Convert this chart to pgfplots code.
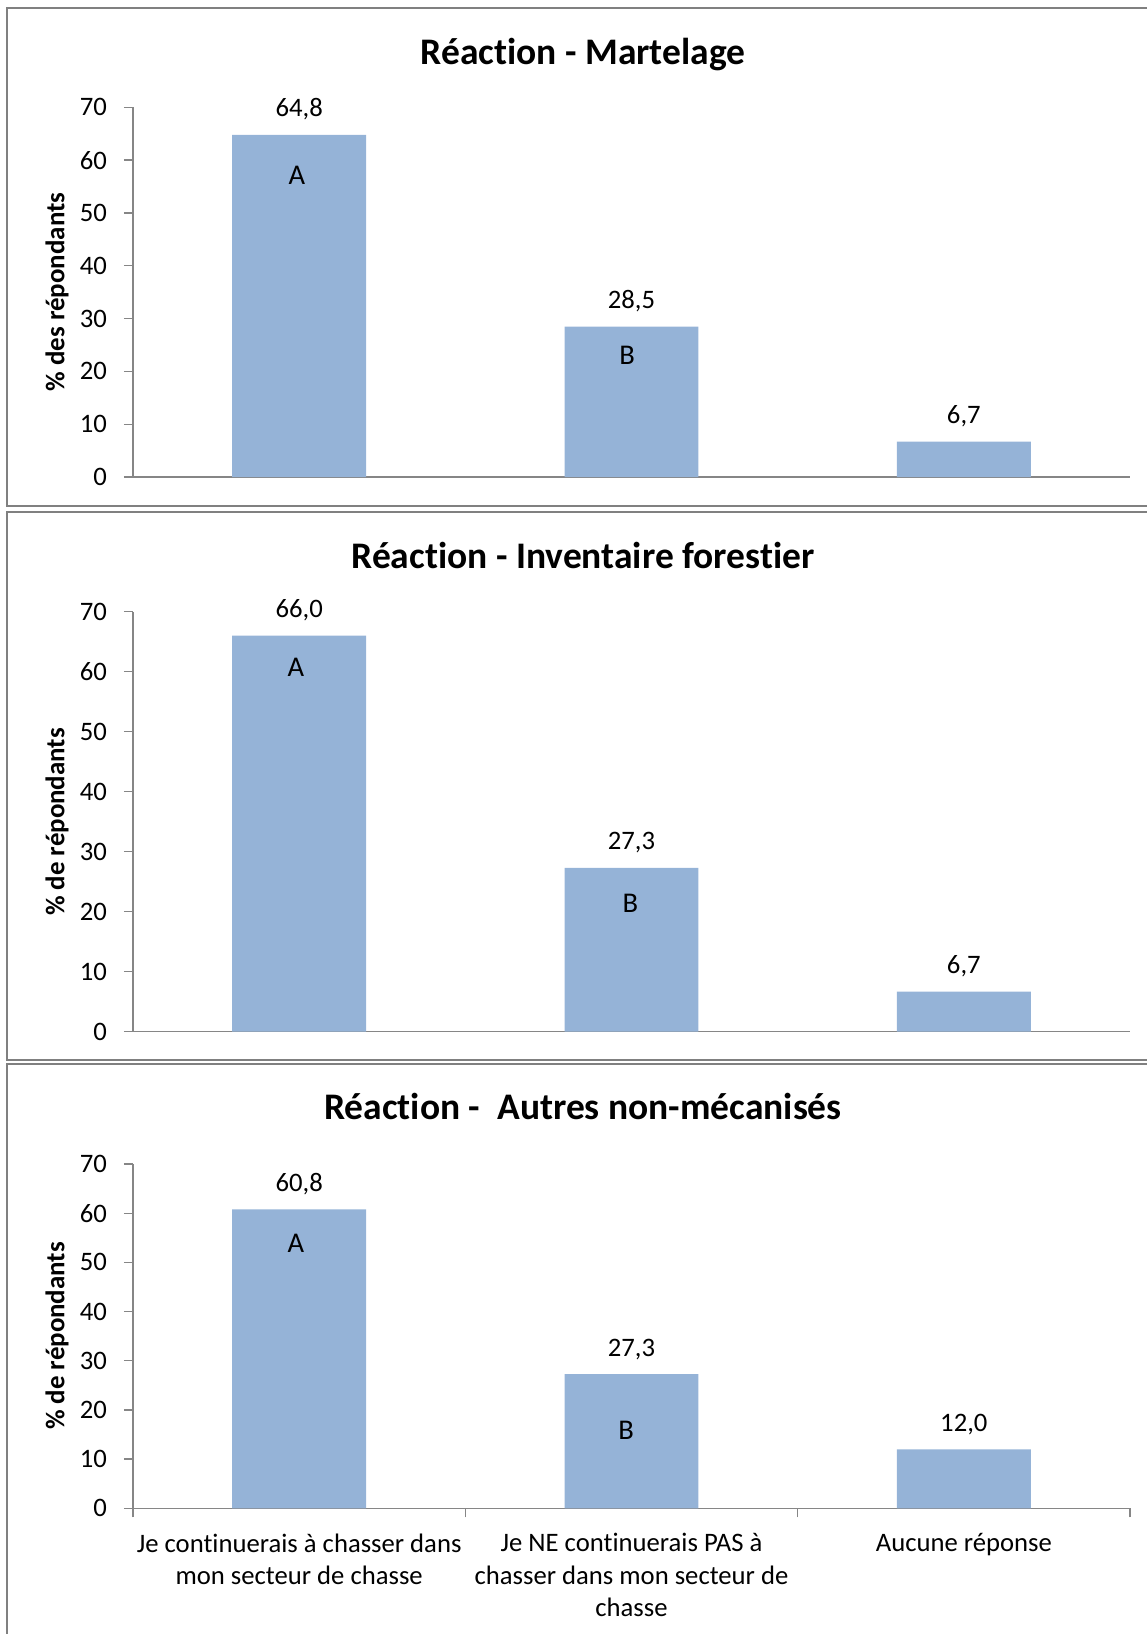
\documentclass[border=0pt]{standalone}
\usepackage{fontspec}
\setmainfont{Carlito}[Ligatures=NoCommon]
\usepackage{pgfplots}
\pgfplotsset{compat=1.18}
\definecolor{barblue}{RGB}{149,179,215}
\definecolor{axisgray}{RGB}{134,134,134}
\definecolor{boxgray}{RGB}{128,128,128}
\newcommand{\tf}{\fontsize{11.2}{13.4}\selectfont}
\newcommand{\lf}{\fontsize{12}{14}\selectfont}
\pgfplotsset{
 panel/.style={
  scale only axis, width=418.74pt,
  xmin=-0.5, xmax=2.5, ymin=0, ymax=70,
  ytick={0,10,...,70},
  axis x line*=bottom, axis y line*=left,
  axis line style={-, draw=axisgray, line width=0.55pt},
  tick align=outside, major tick length=3.8pt,
  tick style={draw=axisgray, line width=0.55pt},
  /pgf/number format/assume math mode=true,
  ticklabel style={font=\tf},
  yticklabel style={xshift=-3.6pt},
  xtick=\empty,
  ybar, bar width=0.403,
  nodes near coords={\pgfmathprintnumber[fixed,fixed zerofill,precision=1,use comma,assume math mode=true]{\pgfplotspointmeta}},
  every node near coord/.append style={font=\tf, yshift=2.6pt, text=black},
  anchor=south west,
 },
}
\begin{document}
\begin{tikzpicture}
\useasboundingbox (0,0) rectangle (481.74pt,-686.28pt);
\clip (0,0) rectangle (481.74pt,-686.28pt);
\begin{scope}[x=0.42pt,y=-0.42pt]
\draw[boxgray, line width=0.6pt] (7,8) rectangle (1170,506);
\draw[boxgray, line width=0.6pt] (7,512) rectangle (1170,1060);
\draw[boxgray, line width=0.6pt] (7,1064) rectangle (1170,1680);
\node[anchor=base, font=\fontsize{15.75}{18}\selectfont\bfseries] at (583,64.3) {Réaction - Martelage};
\node[anchor=base, font=\fontsize{15.75}{18}\selectfont\bfseries] at (583,568.3) {Réaction - Inventaire forestier};
\node[anchor=base, font=\fontsize{15.75}{18}\selectfont\bfseries] at (583,1119.8) {Réaction - \ Autres non-mécanisés};
\node[rotate=90, font=\fontsize{11.3}{13}\selectfont\bfseries] at (57,292) {\% des répondants};
\node[rotate=90, font=\fontsize{11.3}{13}\selectfont\bfseries] at (57,822) {\% de répondants};
\node[rotate=90, font=\fontsize{11.3}{13}\selectfont\bfseries] at (57,1336) {\% de répondants};
\end{scope}

\begin{axis}[panel, height=155.27pt, at={(55.86pt,-200.34pt)}]
\addplot[fill=barblue, draw=none] coordinates {(0,64.8) (1,28.5) (2,6.7)};
\node[font=\lf] at (axis cs:-0.007,57.2) {A};
\node[font=\lf] at (axis cs:0.987,23.1) {B};
\end{axis}

\begin{axis}[panel, height=176.4pt, at={(55.86pt,-433.31pt)}]
\addplot[fill=barblue, draw=none] coordinates {(0,66.0) (1,27.3) (2,6.7)};
\node[font=\lf] at (axis cs:-0.01,60.7) {A};
\node[font=\lf] at (axis cs:0.997,21.4) {B};
\end{axis}

\begin{axis}[panel, height=144.61pt, at={(55.86pt,-633.49pt)},
  xtick={-0.5,0.5,1.5,2.5}, x tick label as interval,
  xticklabels={{Je continuerais à chasser dans\\mon secteur de chasse},{Je NE continuerais PAS à\\chasser dans mon secteur de\\chasse},{Aucune réponse}},
  xticklabel style={align=center, font=\fontsize{11.2}{13.65}\selectfont, yshift=-3.3pt}]
\addplot[fill=barblue, draw=none] coordinates {(0,60.8) (1,27.3) (2,12.0)};
\node[font=\lf] at (axis cs:-0.01,53.9) {A};
\node[font=\lf] at (axis cs:0.984,15.8) {B};
\end{axis}
\end{tikzpicture}
\end{document}
